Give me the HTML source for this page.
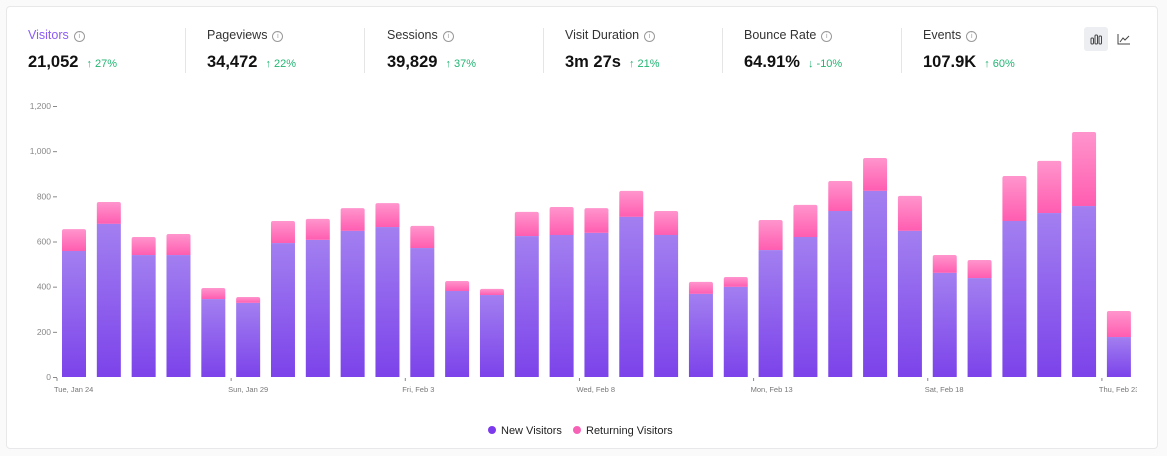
<!DOCTYPE html>
<html><head><meta charset="utf-8">
<style>
body{margin:0;width:1167px;height:456px;background:#fafafa;font-family:"Liberation Sans",sans-serif;overflow:hidden;position:relative}
.card{position:absolute;left:6px;top:6px;width:1152px;height:443px;background:#fff;border:1px solid #e8e8ea;border-radius:4px;box-sizing:border-box}
.stat{position:absolute;top:28px}
.lab{font-size:12.5px;color:#333;height:16px}
.lab .i{display:inline-block;width:9px;height:9px;border:1px solid #999;border-radius:50%;font-size:7px;line-height:9px;text-align:center;color:#999;margin-left:5px;vertical-align:1px}
.val{margin-top:9px;font-size:16.5px;font-weight:bold;color:#111;white-space:nowrap}
.val span{font-size:11px;font-weight:normal;color:#22b573;margin-left:8px}
.div{position:absolute;top:28px;width:1px;height:45px;background:#e5e5e5}
</style></head><body>
<div class="card"></div>
<div class="stat" style="left:28px"><div class="lab" style="color:#8b5cf6">Visitors<span class="i">i</span></div><div class="val">21,052<span>↑ 27%</span></div></div>
<div class="div" style="left:185px"></div>
<div class="stat" style="left:207px"><div class="lab">Pageviews<span class="i">i</span></div><div class="val">34,472<span>↑ 22%</span></div></div>
<div class="div" style="left:364px"></div>
<div class="stat" style="left:387px"><div class="lab">Sessions<span class="i">i</span></div><div class="val">39,829<span>↑ 37%</span></div></div>
<div class="div" style="left:543px"></div>
<div class="stat" style="left:565px"><div class="lab">Visit Duration<span class="i">i</span></div><div class="val">3m 27s<span>↑ 21%</span></div></div>
<div class="div" style="left:722px"></div>
<div class="stat" style="left:744px"><div class="lab">Bounce Rate<span class="i">i</span></div><div class="val">64.91%<span>↓ -10%</span></div></div>
<div class="div" style="left:901px"></div>
<div class="stat" style="left:923px"><div class="lab">Events<span class="i">i</span></div><div class="val">107.9K<span>↑ 60%</span></div></div>
<div style="position:absolute;left:1084px;top:27px;width:24px;height:24px;background:#eceef1;border-radius:3px">
<svg width="24" height="24"><rect x="7" y="11" width="2.5" height="6" rx="1" fill="none" stroke="#444"/><rect x="11" y="8" width="2.5" height="9" rx="1" fill="none" stroke="#444"/><rect x="15" y="9" width="2.5" height="8" rx="1" fill="none" stroke="#444"/></svg></div>
<div style="position:absolute;left:1112px;top:27px;width:24px;height:24px">
<svg width="24" height="24"><path d="M6 7V17H18" fill="none" stroke="#444"/><path d="M8 15L11 11L13 13L17 9" fill="none" stroke="#444"/></svg></div>
<svg id="chart" width="1167" height="456" style="position:absolute;left:0;top:0">
<defs>
<linearGradient id="gn" x1="0" y1="0" x2="0" y2="1"><stop offset="0" stop-color="#a27ff0"/><stop offset="1" stop-color="#7c43ea"/></linearGradient>
<linearGradient id="gr" x1="0" y1="0" x2="0" y2="1"><stop offset="0" stop-color="#ff95cd"/><stop offset="1" stop-color="#ff5db0"/></linearGradient>
<clipPath id="clip"><rect x="0" y="0" width="1137" height="456"/></clipPath>
</defs>
</svg>
<div style="position:absolute;left:488px;top:425px;font-size:11px;color:#222;white-space:nowrap">
<span><span style="display:inline-block;width:8px;height:8px;border-radius:50%;background:#7c3aed;margin-right:5px"></span>New Visitors</span>
<span style="margin-left:8px"><span style="display:inline-block;width:8px;height:8px;border-radius:50%;background:#f862b6;margin-right:5px"></span>Returning Visitors</span>
</div>
<script>
const newVisitors=[558,678,540,540,345,328,593,607,647,664,571,381,363,624,629,638,709,629,368,399,562,620,735,824,647,461,438,691,726,757,177];
const returningVisitors=[97,97,80,93,49,26,98,93,101,106,98,44,27,107,124,110,115,106,53,44,133,142,133,146,155,79,80,199,231,328,115];
const yTicks=[0,200,400,600,800,1000,1200];
const xLabels=["Tue, Jan 24","Sun, Jan 29","Fri, Feb 3","Wed, Feb 8","Mon, Feb 13","Sat, Feb 18","Thu, Feb 23"];
const xLabelIdx=[0,5,10,15,20,25,30];
const svg=document.getElementById('chart');
const NS='http://www.w3.org/2000/svg';
const y0=377,pxPerUnit=271/1200,slot0=57,step=34.83,bw=24;
const yS=v=>y0-v*pxPerUnit;
const xS=i=>slot0+step*i;
function mk(t,a){const e=document.createElementNS(NS,t);for(const k in a)e.setAttribute(k,a[k]);svg.appendChild(e);return e;}
yTicks.forEach(v=>{
 const t=mk('text',{x:51,y:yS(v)+3,'text-anchor':'end','font-size':'8.5','fill':'#888'});t.textContent=v.toLocaleString('en-US');
 
 
 mk('line',{x1:53,x2:57,y1:yS(v)+.5,y2:yS(v)+.5,stroke:'#888'});
});
xLabelIdx.forEach((idx,k)=>{
 const x=xS(idx);
 mk('line',{x1:x,x2:x,y1:y0+1,y2:y0+4,stroke:'#888'});
 const t=mk('text',{x:x-3,y:y0+15,'font-size':'7.5','fill':'#777','clip-path':'url(#clip)'});t.textContent=xLabels[k];
 
 
});
newVisitors.forEach((n,i)=>{
 const r=returningVisitors[i];const x=xS(i)+5;
 const p=mk('path',{d:`M${x},${yS(n)}V${yS(n+r)+2}q0,-2 2,-2h${bw-4}q2,0 2,2V${yS(n)}Z`,fill:'url(#gr)'});
 
 
 const b=mk('rect',{x:x,y:yS(n),width:bw,height:y0-yS(n),fill:'url(#gn)'});
 
 
});
</script>
</body></html>
